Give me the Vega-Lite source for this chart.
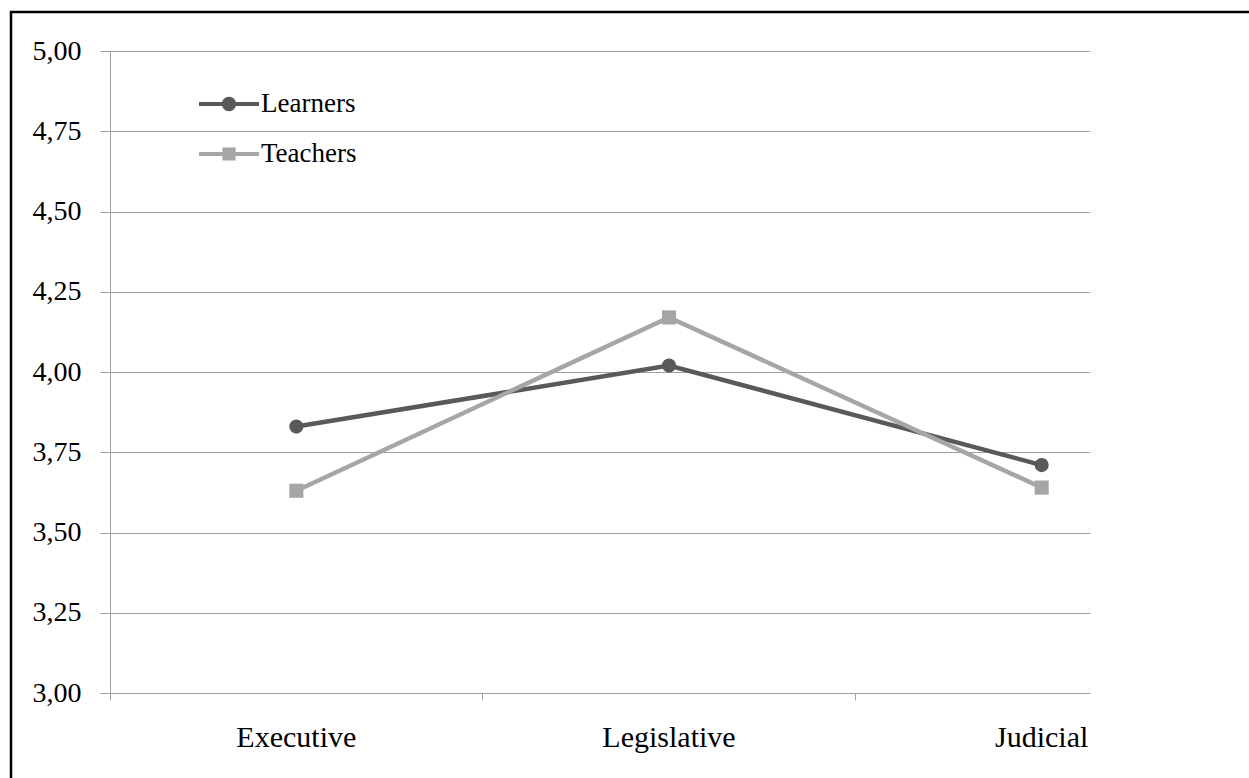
{
  "$schema": "https://vega.github.io/schema/vega-lite/v6.json",
  "width": 1240,
  "height": 768,
  "autosize": "none",
  "padding": {"left": 11, "top": 12, "right": 0, "bottom": 0},
  "background": "white",
  "config": {"view": {"stroke": "#000000", "strokeWidth": 2.5}, "font": "Liberation Serif"},
  "data": {"values": [
    {"branch": "Executive", "group": "Learners", "score": 3.83},
    {"branch": "Legislative", "group": "Learners", "score": 4.02},
    {"branch": "Judicial", "group": "Learners", "score": 3.71},
    {"branch": "Executive", "group": "Teachers", "score": 3.63},
    {"branch": "Legislative", "group": "Teachers", "score": 4.17},
    {"branch": "Judicial", "group": "Teachers", "score": 3.64}
  ]},
  "encoding": {
    "x": {
      "field": "branch", "type": "nominal",
      "sort": ["Executive", "Legislative", "Judicial"],
      "bandPosition": 0.5,
      "scale": {"type": "band", "range": [99, 1217], "paddingInner": 0, "paddingOuter": 0},
      "axis": {
        "title": null, "orient": "bottom", "offset": -87, "domain": false,
        "bandPosition": 0, "ticks": true, "tickSize": 7, "tickColor": "#a0a0a0", "tickWidth": 1,
        "grid": false, "labelAngle": 0, "labelPadding": 22, "labelFont": "Liberation Serif", "labelFontSize": 30,
        "labelColor": "#000000", "zindex": 0
      }
    }
  },
  "layer": [
    {
      "mark": {"type": "line", "strokeWidth": 4.5},
      "encoding": {
        "y": {
          "field": "score", "type": "quantitative",
          "scale": {"domain": [3, 5], "range": [681, 39], "nice": false, "zero": false},
          "axis": {
            "title": null, "orient": "left", "offset": -99, "domain": false, "grid": false,
            "values": [3, 3.25, 3.5, 3.75, 4, 4.25, 4.5, 4.75, 5],
            "ticks": true, "tickSize": -980, "tickColor": "#a0a0a0", "tickWidth": 1,
            "labels": false, "zindex": 0
          }
        },
        "color": {
          "field": "group", "type": "nominal",
          "scale": {"domain": ["Learners", "Teachers"], "range": ["#595959", "#a6a6a6"]},
          "legend": {
            "title": null, "orient": "none", "legendX": 188, "legendY": 62, "padding": 0,
            "symbolSize": 3600, "rowPadding": 7, "labelOffset": 2,
            "labelFont": "Liberation Serif", "labelFontSize": 27, "labelColor": "#000000",
            "encode": {"symbols": {"update": {
              "shape": {"signal": "datum.value === 'Learners' ? 'M-1,-0.067H1V0.067H-1Z M-0.24,0A0.24,0.24,0,1,1,0.24,0A0.24,0.24,0,1,1,-0.24,0Z' : 'M-1,-0.067H1V0.067H-1Z M-0.22,-0.22H0.22V0.22H-0.22Z'"},
              "fill": {"signal": "datum.value === 'Learners' ? '#595959' : '#a6a6a6'"},
              "stroke": {"value": "transparent"},
              "strokeWidth": {"value": 0},
              "opacity": {"value": 1}
            }}}
          }
        }
      }
    },
    {
      "transform": [{"filter": "datum.group === 'Learners'"}],
      "mark": {"type": "point", "filled": true, "opacity": 1, "size": 200, "shape": "circle"},
      "encoding": {
        "y": {
          "field": "score", "type": "quantitative",
          "scale": {"domain": [3, 5], "range": [681, 39], "nice": false, "zero": false},
          "axis": {
            "title": null, "orient": "left", "offset": -99, "domain": true, "domainColor": "#a0a0a0", "domainWidth": 1,
            "grid": false, "values": [3, 3.25, 3.5, 3.75, 4, 4.25, 4.5, 4.75, 5],
            "ticks": true, "tickSize": 10, "tickColor": "#a0a0a0", "tickWidth": 1,
            "labelExpr": "replace(format(datum.value, '.2f'), '.', ',')",
            "labelPadding": 19, "labelFont": "Liberation Serif", "labelFontSize": 28, "labelColor": "#000000", "zindex": 0
          }
        },
        "color": {"field": "group", "type": "nominal", "legend": null}
      }
    },
    {
      "transform": [{"filter": "datum.group === 'Teachers'"}],
      "mark": {"type": "point", "filled": true, "opacity": 1, "size": 200, "shape": "square"},
      "encoding": {
        "y": {
          "field": "score", "type": "quantitative",
          "scale": {"domain": [3, 5], "range": [681, 39], "nice": false, "zero": false},
          "axis": null
        },
        "color": {"field": "group", "type": "nominal", "legend": null}
      }
    }
  ],
  "resolve": {"axis": {"y": "independent"}}
}
